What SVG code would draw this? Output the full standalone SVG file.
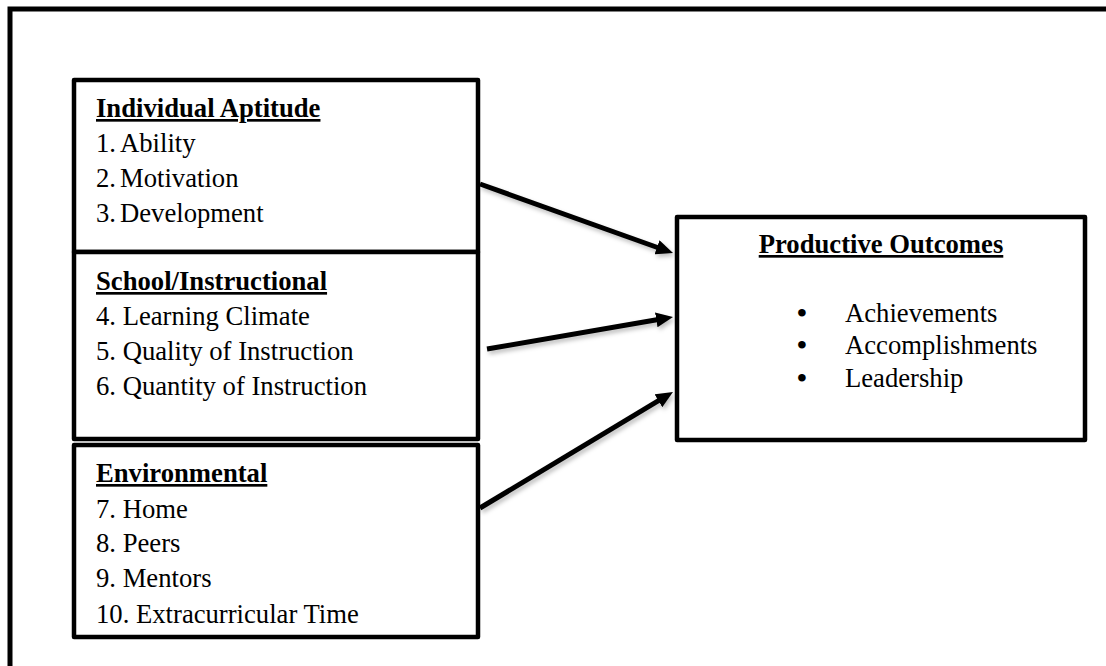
<svg xmlns="http://www.w3.org/2000/svg" width="1106" height="666" viewBox="0 0 1106 666">
<style>
  .box { fill: #ffffff; stroke: #000000; stroke-width: 4.5; stroke-linejoin: round; }
  .t { font-family: "Liberation Serif", "Times New Roman", serif; font-size: 26.67px; fill: #000000; }
  .h { font-weight: bold; text-decoration: underline; }
  .b { font-size: 28px; font-weight: bold; }
  .conn { stroke: #000000; stroke-width: 5; fill: none; marker-end: url(#arrow); filter: url(#shadow); }
</style>
<defs>
  <marker id="arrow" markerUnits="userSpaceOnUse" markerWidth="17" markerHeight="15" refX="5" refY="7.5" orient="auto">
    <path d="M0,0 L17,7.5 L0,15 z" fill="#000000"/>
  </marker>
  <filter id="shadow" x="-10%" y="-30%" width="130%" height="160%">
    <feDropShadow dx="2" dy="3" stdDeviation="2" flood-color="#000000" flood-opacity="0.25"/>
  </filter>
</defs>
<rect x="0" y="0" width="1106" height="666" fill="#ffffff"/>
<rect id="frame" x="10" y="9" width="1110" height="680" fill="none" stroke="#000000" stroke-width="5"/>

<g id="individual-aptitude">
  <rect class="box" x="74" y="80" width="404" height="172"/>
  <text class="t h" x="96" y="117">Individual Aptitude</text>
  <text class="t" x="96" y="152">1.<tspan x="120">Ability</tspan></text>
  <text class="t" x="96" y="187">2.<tspan x="120">Motivation</tspan></text>
  <text class="t" x="96" y="222">3.<tspan x="120">Development</tspan></text>
</g>

<g id="school-instructional">
  <rect class="box" x="74" y="252" width="404" height="187"/>
  <text class="t h" x="96" y="290">School/Instructional</text>
  <text class="t" x="96" y="325">4. Learning Climate</text>
  <text class="t" x="96" y="360">5. Quality of Instruction</text>
  <text class="t" x="96" y="395">6. Quantity of Instruction</text>
</g>

<g id="environmental">
  <rect class="box" x="74" y="445" width="404" height="192"/>
  <text class="t h" x="96" y="482">Environmental</text>
  <text class="t" x="96" y="518">7. Home</text>
  <text class="t" x="96" y="552">8. Peers</text>
  <text class="t" x="96" y="587">9. Mentors</text>
  <text class="t" x="96" y="623">10. Extracurricular Time</text>
</g>

<g id="productive-outcomes">
  <rect class="box" x="677" y="217" width="408" height="223"/>
  <text class="t h" x="881" y="253" text-anchor="middle">Productive Outcomes</text>
  <text class="t" y="322"><tspan class="b" x="797">•</tspan><tspan x="845">Achievements</tspan></text>
  <text class="t" y="354"><tspan class="b" x="797">•</tspan><tspan x="845">Accomplishments</tspan></text>
  <text class="t" y="387"><tspan class="b" x="797">•</tspan><tspan x="845">Leadership</tspan></text>
</g>

<g id="connectors">
  <line class="conn" x1="480" y1="184" x2="661.7" y2="249"/>
  <line class="conn" x1="487" y1="349" x2="661.2" y2="319"/>
  <line class="conn" x1="480" y1="508" x2="662.7" y2="398.2"/>
</g>
</svg>
